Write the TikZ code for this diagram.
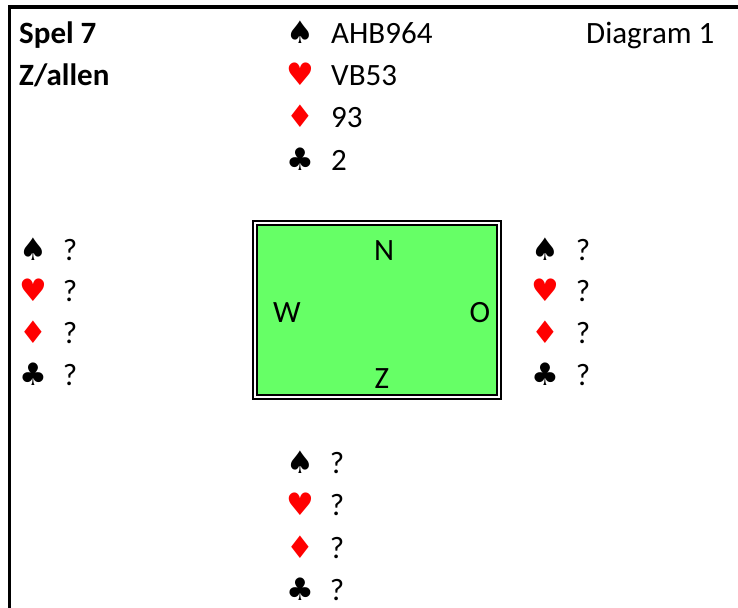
\documentclass[tikz,border=0pt]{standalone}
\usepackage{fontspec}
\setmainfont{Carlito}
\newfontfamily\suitfont{DejaVu Sans}
\definecolor{feltgreen}{HTML}{66FF66}
\definecolor{suitred}{HTML}{FF0000}
\tikzset{
  txt/.style={inner sep=0pt, anchor=base west, font=\fontsize{31}{31}\selectfont},
  ttl/.style={inner sep=0pt, anchor=base west, font=\fontsize{31}{31}\selectfont\bfseries},
  qm/.style={inner sep=0pt, anchor=base, font=\fontsize{31}{31}\selectfont},
  suit/.style={inner sep=0pt, anchor=base, font=\fontsize{31}{31}\suitfont},
  blk/.style={suit, text=black},
  rd/.style={suit, text=suitred},
  compass/.style={inner sep=0pt, anchor=base, font=\fontsize{31}{31}\selectfont},
  frame/.style={line width=3.8pt, line cap=rect},
}
\begin{document}
\begin{tikzpicture}[x=1pt,y=-1pt]
\useasboundingbox (0,0) rectangle (738,607);
% frame
\coordinate (fl) at (9.5,607);
\coordinate (fc) at (9.5,7);
\coordinate (fr) at (738,7);
\draw[frame] (fl) -- (fc) -- (fr);
% titles
\node[ttl] (spel) at (19,43.5) {Spel 7};
\node[ttl] (zallen) at (19,85.5) {Z/allen};
\node[txt] (diag) at (586,43.5) {Diagram 1};
% north hand
\node[blk] (ns) at (300,43.5) {♠};
\node[rd]  (nh) at (300,85.5) {♥};
\node[rd]  (nd) at (300,128) {♦};
\node[blk] (nc) at (300,170.5) {♣};
\node[txt] (nsT) at (331,43.5) {AHB964};
\node[txt] (nhT) at (331,85.5) {VB53};
\node[txt] (ndT) at (331,128) {93};
\node[txt] (ncT) at (331,170.5) {2};
% west hand
\node[blk] (ws) at (33,260.5) {♠};
\node[rd]  (wh) at (33,301.5) {♥};
\node[rd]  (wd) at (33,343.5) {♦};
\node[blk] (wc) at (33,385.5) {♣};
\node[qm] (wsT) at (70,260.5) {?};
\node[qm] (whT) at (70,301.5) {?};
\node[qm] (wdT) at (70,343.5) {?};
\node[qm] (wcT) at (70,385.5) {?};
% east hand
\node[blk] (es) at (545,260.5) {♠};
\node[rd]  (eh) at (545,301.5) {♥};
\node[rd]  (ed) at (545,343.5) {♦};
\node[blk] (ec) at (545,385.5) {♣};
\node[qm] (esT) at (583,260.5) {?};
\node[qm] (ehT) at (583,301.5) {?};
\node[qm] (edT) at (583,343.5) {?};
\node[qm] (ecT) at (583,385.5) {?};
% south hand
\node[blk] (ss) at (300,473.5) {♠};
\node[rd]  (sh) at (300,515.5) {♥};
\node[rd]  (sd) at (300,558) {♦};
\node[blk] (sc) at (300,600.5) {♣};
\node[qm] (ssT) at (337,473.5) {?};
\node[qm] (shT) at (337,515.5) {?};
\node[qm] (sdT) at (337,558) {?};
\node[qm] (scT) at (337,600.5) {?};
% table
\draw[line width=2pt] (253,221) rectangle (501,399);
\draw[line width=2pt, fill=feltgreen] (257,225) rectangle (497,395);
\node[compass] (cn) at (384,260.5) {N};
\node[compass] (cw) at (287,322.5) {W};
\node[compass] (co) at (480,322.5) {O};
\node[compass] (cz) at (382,388.5) {Z};
\end{tikzpicture}
\end{document}
